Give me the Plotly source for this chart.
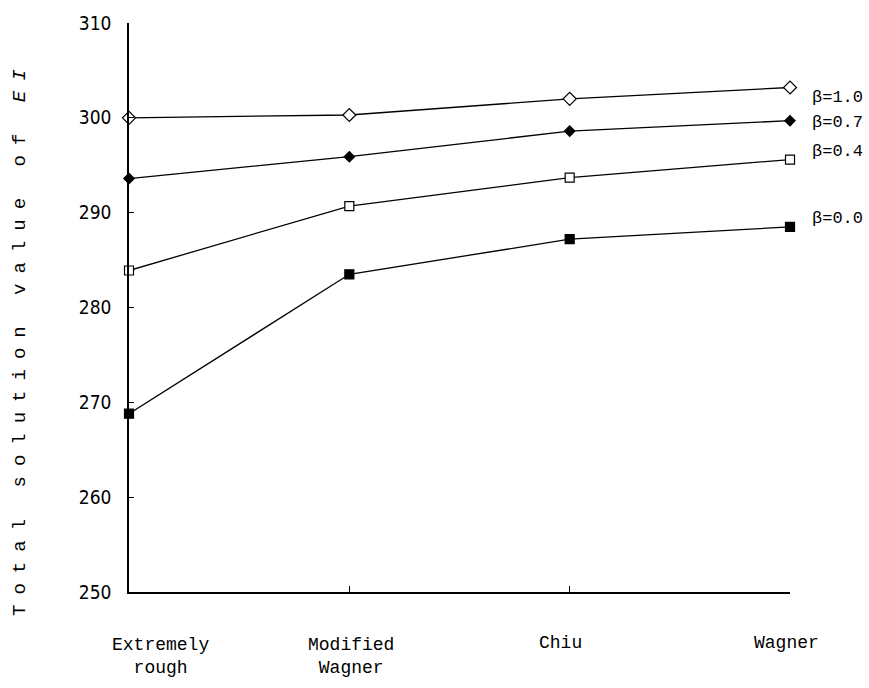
import plotly.graph_objects as go

categories = ["Extremely<br>rough", "Modified<br>Wagner", "Chiu", "Wagner"]
x_index = [0, 1, 2, 3]
beta_labels = ["β=1.0", "β=0.7", "β=0.4", "β=0.0"]
beta_10 = [300.0, 300.3, 302.0, 303.2]
beta_07 = [293.6, 295.9, 298.6, 299.7]
beta_04 = [283.9, 290.7, 293.7, 295.6]
beta_00 = [268.8, 283.5, 287.2, 288.5]
y_ticks = [250, 260, 270, 280, 290, 300, 310]

series = [beta_10, beta_07, beta_04, beta_00]
symbols = ["diamond", "diamond", "square", "square"]
fills = ["white", "black", "white", "black"]
sizes = [10, 8, 9, 9]
label_yshift = [-10, -2, 8, 8]

fig = go.Figure()
for vals, sym, fc, sz, name in zip(series, symbols, fills, sizes, beta_labels):
    fig.add_trace(go.Scatter(
        x=x_index, y=vals, mode="lines+markers", name=name,
        line=dict(color="black", width=1.3),
        marker=dict(symbol=sym, size=sz, color=fc, line=dict(color="black", width=1.2)),
        cliponaxis=False, showlegend=False,
    ))

mono = "Liberation Mono, Courier New, monospace"
narrow = "DejaVu Sans Condensed, Liberation Sans Narrow, Liberation Mono, sans-serif"
annotations = []
for vals, name, ys in zip(series, beta_labels, label_yshift):
    annotations.append(dict(x=x_index[-1], y=vals[-1], xref="x", yref="y", text=name,
                            showarrow=False, xanchor="left", yanchor="middle",
                            xshift=20, yshift=ys, font=dict(family=mono, size=17, color="black")))

cat_xshift = [31, 2, -9, -4]
for xi, cat, xs in zip(x_index, categories, cat_xshift):
    two = "<br>" in cat
    annotations.append(dict(x=xi, y=0, xref="x", yref="paper", text=cat, showarrow=False,
                            xanchor="center", yanchor="middle", xshift=xs,
                            yshift=-64 if two else -51,
                            font=dict(family=mono, size=18, color="black")))

annotations.append(dict(
    x=-0.166, y=0.447, xref="paper", yref="paper", textangle=-90, showarrow=False,
    text='<span style="letter-spacing:10px">Total solution value of <i>EI</i></span>',
    font=dict(family=mono, size=19, color="black"), xanchor="center", yanchor="middle"))

fig.update_layout(
    width=869, height=688,
    margin=dict(l=129, r=79, t=20, b=96),
    plot_bgcolor="white", paper_bgcolor="white",
    annotations=annotations,
    xaxis=dict(range=[0, 3], showgrid=False, zeroline=False, showline=True,
               linecolor="black", linewidth=1.5, ticks="inside", tickvals=[1, 2, 3],
               ticklen=6, tickcolor="black", showticklabels=False),
    yaxis=dict(range=[250, 310], showgrid=False, zeroline=False, showline=True,
               linecolor="black", linewidth=1.5, ticks="inside", tickvals=y_ticks,
               ticklen=5, tickcolor="black", ticklabelstandoff=12,
               tickfont=dict(family=narrow, size=19, color="black")),
)

fig.write_html("out.html", config={"displayModeBar": False},
               post_script="document.body.style.margin='0px';")
